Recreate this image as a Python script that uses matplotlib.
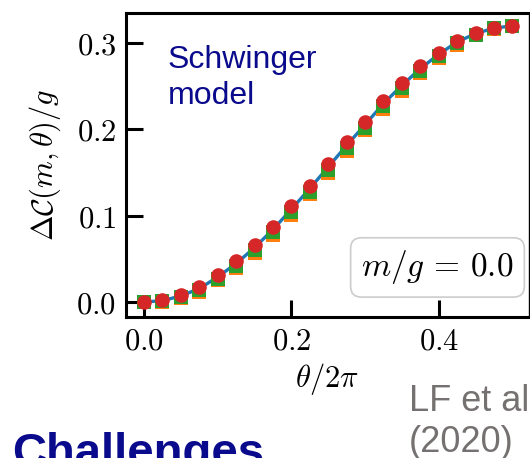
import matplotlib.pyplot as plt

plt.rcParams['mathtext.fontset'] = 'cm'

# theta / 2pi
theta = [0.0, 0.025, 0.05, 0.075, 0.1, 0.125, 0.15, 0.175, 0.2, 0.225, 0.25,
         0.275, 0.3, 0.325, 0.35, 0.375, 0.4, 0.425, 0.45, 0.475, 0.5]

# curve (blue line)
line_vals = [0.000, 0.0015, 0.007, 0.0155, 0.029, 0.0445, 0.063, 0.084, 0.1075, 0.1315, 0.1565,
             0.1815, 0.2055, 0.230, 0.251, 0.2705, 0.287, 0.3015, 0.311, 0.3175, 0.320]
# orange squares
orange_vals = [0.000, 0.000, 0.005, 0.012, 0.025, 0.039, 0.057, 0.078, 0.101, 0.125, 0.150,
               0.175, 0.199, 0.224, 0.245, 0.265, 0.283, 0.298, 0.309, 0.316, 0.320]
# green squares
green_vals = [0.000, 0.001, 0.006, 0.014, 0.027, 0.042, 0.060, 0.081, 0.104, 0.128, 0.153,
              0.178, 0.202, 0.227, 0.248, 0.268, 0.285, 0.300, 0.310, 0.317, 0.320]
# red circles
red_vals = [0.000, 0.002, 0.008, 0.017, 0.031, 0.047, 0.066, 0.087, 0.111, 0.135, 0.160,
            0.185, 0.209, 0.233, 0.254, 0.273, 0.289, 0.303, 0.312, 0.318, 0.320]

xticks = [0.0, 0.2, 0.4]
yticks = [0.0, 0.1, 0.2, 0.3]

fig = plt.figure(figsize=(5.30, 4.58), dpi=100)
ax = fig.add_axes([0.2377, 0.3079, 0.7604, 0.6638])

ax.plot(theta, line_vals, color='#1f77b4', lw=2.4, zorder=2)
ax.plot(theta, orange_vals, 's', color='#ff7f0e', ms=10, mew=0, zorder=3)
ax.plot(theta, green_vals, 's', color='#2ca02c', ms=10, mew=0, zorder=4)
ax.plot(theta, red_vals, 'o', color='#d62728', ms=10.5, mew=0, zorder=5)

ax.set_xlim(-0.0245, 0.5225)
ax.set_ylim(-0.0174, 0.335)
ax.set_xticks(xticks)
ax.set_yticks(yticks)
ax.set_xticklabels(['$%.1f$' % t for t in xticks])
ax.set_yticklabels(['$%.1f$' % t for t in yticks])
ax.tick_params(direction='in', length=12, width=2.2, labelsize=22, pad=7,
               top=False, right=False)
for s in ax.spines.values():
    s.set_linewidth(2.2)
ax.spines['right'].set_linewidth(1.0)

ax.set_xlabel(r'$\theta/2\pi$', fontsize=22, labelpad=4)
ax.set_ylabel(r'$\Delta\mathcal{C}(m,\theta)/g$', fontsize=22, labelpad=10)

ax.text(0.103, 0.895, 'Schwinger\nmodel', transform=ax.transAxes, fontsize=23,
        family='Liberation Sans', color='#0a0a8c', va='top', ha='left',
        linespacing=1.25)

ax.text(0.962, 0.163, r'$m/g\,=\,0.0$', transform=ax.transAxes, fontsize=24,
        ha='right', va='center',
        bbox=dict(boxstyle='round,pad=0.32', fc='white', ec='#cccccc', lw=1.2))

fig.text(0.772, 0.013, 'LF et al\n(2020)', fontsize=26, family='Liberation Sans',
         color='#767171', ha='left', va='baseline', linespacing=1.22)
fig.text(0.022, -0.017, 'Challenges', fontsize=34, family='Liberation Sans',
         fontweight='bold', color='#0a0a8c', ha='left', va='baseline')

fig.savefig('out.png', dpi=100)
